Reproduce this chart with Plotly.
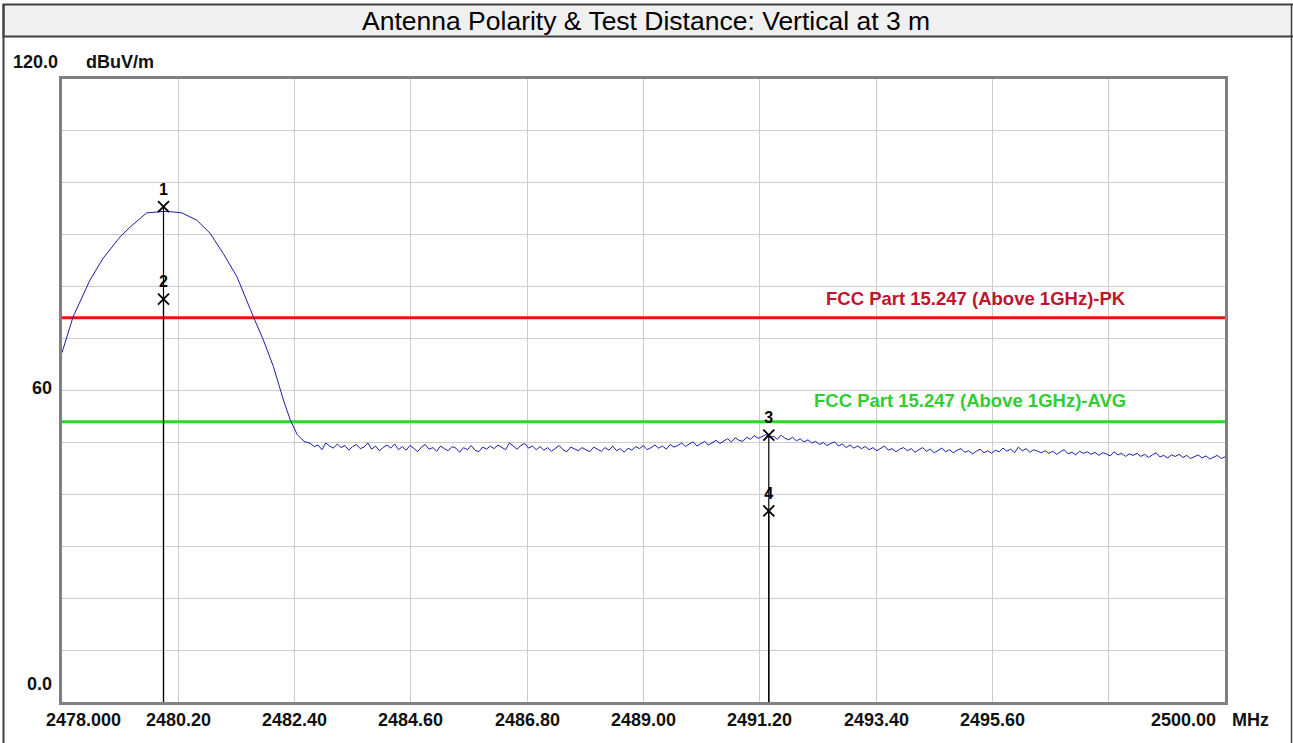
import numpy as np
import plotly.graph_objects as go

# ---------------- data ----------------
freq_smooth = [2478.00, 2478.21, 2478.53, 2478.78, 2479.10, 2479.29, 2479.60, 2479.75,
               2479.92, 2480.10, 2480.27, 2480.55, 2480.80, 2481.05, 2481.31, 2481.62,
               2481.81, 2482.00, 2482.20, 2482.32, 2482.45, 2482.58]
level_smooth = [67.3, 74.2, 81.3, 85.5, 89.6, 91.5, 94.2, 94.4,
                94.5, 94.4, 94.2, 92.8, 90.3, 86.4, 81.9, 74.2,
                69.7, 64.6, 57.8, 54.3, 51.5, 50.2]

noise_start, noise_stop = 2482.70, 2500.00
level_noise = [
    49.8, 49.2, 49.5, 48.6, 49.9, 49.3, 48.9, 49.7, 49.0, 49.4, 48.5, 49.2,
    49.6, 48.8, 49.1, 49.9, 48.7, 49.3, 48.4, 49.0, 49.5, 48.9, 49.7, 48.6,
    49.2, 48.5, 49.4, 48.9, 48.2, 49.1, 49.6, 48.7, 49.0, 48.3, 49.3, 48.8,
    48.4, 49.2, 48.9, 48.1, 49.0, 48.6, 49.4, 48.5, 48.2, 49.1, 48.7, 49.3,
    48.8, 49.5, 49.0, 48.6, 49.9, 49.2, 48.7, 49.4, 49.8, 48.9, 49.3, 48.6,
    49.2, 48.5, 49.0, 48.3, 48.9, 49.4, 48.6, 48.2, 49.1, 48.8, 48.4, 49.0,
    48.6, 48.2, 49.1, 48.7, 48.3, 49.0, 48.5, 49.3, 48.4, 48.8, 48.1, 48.9,
    48.5, 49.2, 48.8, 49.4, 48.6, 49.0, 49.5, 48.9, 49.3, 48.7, 49.6, 49.1,
    49.4, 49.9, 49.2, 49.7, 50.1, 49.3, 49.8, 50.2, 49.5, 50.0, 50.4, 49.8,
    50.3, 50.7, 50.1, 50.9, 50.4, 50.2, 51.0, 50.6, 51.3, 50.8, 51.1, 51.5,
    50.9, 51.2, 50.6, 51.4, 50.8, 50.5, 51.0, 50.3, 50.7, 50.1, 50.5, 49.9,
    50.2, 49.6, 50.0, 49.4, 49.8, 50.1, 49.3, 49.7, 49.0, 49.5, 48.9, 49.3,
    48.8, 49.2, 48.6, 49.0, 48.4, 48.9, 49.3, 48.5, 48.8, 48.2, 48.7, 49.0,
    48.4, 48.8, 48.1, 48.6, 49.0, 48.3, 48.7, 48.0, 48.5, 48.9, 48.2, 48.6,
    48.0, 48.5, 48.8, 48.1, 48.4, 47.8, 48.3, 48.7, 48.0, 48.4, 47.9, 48.5,
    48.2, 48.9, 48.3, 48.7, 48.0, 49.1, 48.4, 48.8, 48.1, 48.6, 48.3, 48.0,
    48.4, 47.9, 48.3, 47.7, 48.2, 48.6, 47.8, 48.1, 47.6, 48.3, 47.9, 48.2,
    47.7, 48.1, 47.5, 48.0, 47.8, 47.4, 48.2, 47.6, 47.9, 47.3, 47.8, 47.5,
    47.9, 47.3, 47.7, 47.1, 47.6, 48.0, 47.2, 47.5, 47.0, 47.6, 47.3, 47.7,
    47.1, 47.5, 46.9, 47.3, 47.6, 47.0, 47.4, 46.8, 47.2, 47.5, 46.9, 47.2,
]

marker_ids = ["1", "2", "3", "4"]
marker_freq = [2479.92, 2479.92, 2491.37, 2491.37]
marker_level = [95.4, 77.6, 51.4, 36.8]

limit_pk = 74.0
limit_avg = 54.0
limit_pk_label = "FCC Part 15.247 (Above 1GHz)-PK"
limit_avg_label = "FCC Part 15.247 (Above 1GHz)-AVG"

x_min, x_max = 2478.0, 2500.0
y_min, y_max = 0.0, 120.0
x_grid = [2480.2, 2482.4, 2484.6, 2486.8, 2489.0, 2491.2, 2493.4, 2495.6, 2497.8]
x_labels = ["2480.20", "2482.40", "2484.60", "2486.80", "2489.00", "2491.20", "2493.40", "2495.60", ""]
y_grid = [0, 10, 20, 30, 40, 50, 60, 70, 80, 90, 100, 110, 120]

title_text = "Antenna Polarity & Test Distance: Vertical at 3 m"

# ---------------- layout geometry (pixels) ----------------
W, H = 1293, 743
PL, PR, PT, PB = 62, 1225, 79, 702   # plot area


def px(xp):
    return (xp - PL) / (PR - PL)


def py(yp):
    return (PB - yp) / (PB - PT)


freq_noise = np.linspace(noise_start, noise_stop, len(level_noise))
freq_all = list(freq_smooth) + list(freq_noise)
level_all = list(level_smooth) + list(level_noise)

fig = go.Figure()

# limit lines
fig.add_trace(go.Scatter(x=[x_min, x_max], y=[limit_pk, limit_pk], mode="lines",
                         line=dict(color="#ee1111", width=3), hoverinfo="skip"))
fig.add_trace(go.Scatter(x=[x_min, x_max], y=[limit_avg, limit_avg], mode="lines",
                         line=dict(color="#22dd22", width=3), hoverinfo="skip"))

# marker vertical lines
for f, lv in zip(marker_freq, marker_level):
    fig.add_trace(go.Scatter(x=[f, f], y=[lv, y_min], mode="lines",
                             line=dict(color="black", width=1.2), hoverinfo="skip"))

# spectrum trace
fig.add_trace(go.Scatter(x=freq_all, y=level_all, mode="lines",
                         line=dict(color="#1c1ca8", width=1)))

# markers
fig.add_trace(go.Scatter(x=marker_freq, y=marker_level, mode="markers+text",
                         text=marker_ids, textposition="top center",
                         textfont=dict(family="Liberation Sans", size=16, color="black", weight="bold"),
                         marker=dict(symbol="x-thin", size=11, line=dict(color="black", width=1.8))))

label_font = dict(family="Liberation Sans", size=18, color="#111111", weight="bold")

annotations = []
# x labels
for xv, t in zip(x_grid, x_labels):
    if t:
        annotations.append(dict(x=xv, y=py(720), xref="x", yref="paper", text=t,
                                showarrow=False, xanchor="center", yanchor="middle", font=label_font))
annotations.append(dict(x=px(83), y=py(720), xref="paper", yref="paper", text="2478.000",
                        showarrow=False, xanchor="center", yanchor="middle", font=label_font))
annotations.append(dict(x=px(1218), y=py(720), xref="paper", yref="paper", text="2500.00",
                        showarrow=False, xanchor="right", yanchor="middle", font=label_font))
annotations.append(dict(x=px(1230), y=py(720), xref="paper", yref="paper", text="MHz",
                        showarrow=False, xanchor="left", yanchor="middle", font=label_font))
# y labels
annotations.append(dict(x=px(60), y=py(62), xref="paper", yref="paper", text="120.0",
                        showarrow=False, xanchor="right", yanchor="middle", font=label_font))
annotations.append(dict(x=px(84), y=py(62), xref="paper", yref="paper", text="dBuV/m",
                        showarrow=False, xanchor="left", yanchor="middle", font=label_font))
annotations.append(dict(x=px(54), y=py(388), xref="paper", yref="paper", text="60",
                        showarrow=False, xanchor="right", yanchor="middle", font=label_font))
annotations.append(dict(x=px(54), y=py(684), xref="paper", yref="paper", text="0.0",
                        showarrow=False, xanchor="right", yanchor="middle", font=label_font))
# limit labels
annotations.append(dict(x=px(1128), y=py(298), xref="paper", yref="paper", text=limit_pk_label,
                        showarrow=False, xanchor="right", yanchor="middle",
                        font=dict(family="Liberation Sans", size=18.5, color="#c0142a", weight="bold")))
annotations.append(dict(x=px(1128), y=py(400), xref="paper", yref="paper", text=limit_avg_label,
                        showarrow=False, xanchor="right", yanchor="middle",
                        font=dict(family="Liberation Sans", size=18.5, color="#33cc33", weight="bold")))
# title
annotations.append(dict(x=px(646), y=py(21), xref="paper", yref="paper", text=title_text,
                        showarrow=False, xanchor="center", yanchor="middle",
                        font=dict(family="Liberation Sans", size=26.5, color="black")))

shapes = [
    # title bar
    dict(type="rect", xref="paper", yref="paper", x0=px(3.5), x1=px(1296), y0=py(36.5), y1=py(4.5),
         fillcolor="#f0f0f0", line=dict(color="#404040", width=2), layer="below"),
    # outer left / right frame
    dict(type="line", xref="paper", yref="paper", x0=px(3.5), x1=px(3.5), y0=py(4.5), y1=py(745),
         line=dict(color="#404040", width=2)),
    dict(type="line", xref="paper", yref="paper", x0=px(1291.5), x1=px(1291.5), y0=py(4.5), y1=py(745),
         line=dict(color="#404040", width=1.5)),
]

fig.update_layout(
    width=W, height=H,
    margin=dict(l=PL, r=W - PR, t=PT, b=H - PB, pad=0),
    paper_bgcolor="white", plot_bgcolor="white",
    showlegend=False,
    annotations=annotations,
    shapes=shapes,
    xaxis=dict(range=[x_min, x_max], tickvals=x_grid, ticktext=x_labels, showticklabels=False,
               showgrid=True, gridcolor="#cccccc", gridwidth=1, zeroline=False,
               showline=True, linecolor="#808080", linewidth=3, mirror=True, ticks=""),
    yaxis=dict(range=[y_min, y_max], tickvals=y_grid, showticklabels=False,
               showgrid=True, gridcolor="#cccccc", gridwidth=1, zeroline=False,
               showline=True, linecolor="#808080", linewidth=3, mirror=True, ticks=""),
)

fig.write_html("out.html",
               config={"displayModeBar": False},
               post_script="document.body.style.margin='0px';document.body.style.overflow='hidden';")
